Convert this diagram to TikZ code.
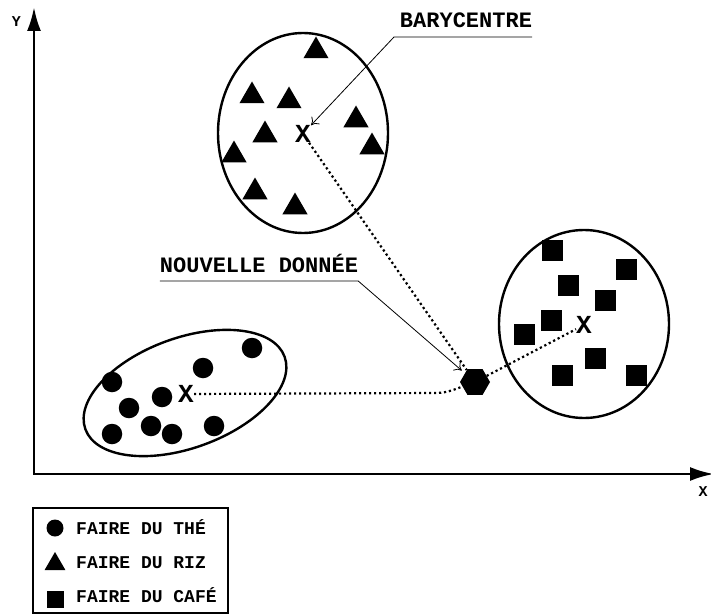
\documentclass[tikz,border=0pt]{standalone}
\usepackage{fontspec}
\setmainfont{Liberation Mono}
\usetikzlibrary{arrows.meta,shapes.geometric}
\tikzset{
  tri/.style={regular polygon, regular polygon sides=3, fill=black, inner sep=0pt, minimum size=29pt},
  sqr/.style={rectangle, fill=black, inner sep=0pt, minimum size=21pt},
  dot/.style={circle, fill=black, inner sep=0pt, minimum size=20.5pt},
  bary/.style={inner sep=0pt, font=\fontsize{26}{26}\selectfont\bfseries},
  cluster/.style={line width=2.4pt},
  link/.style={line width=2.2pt, dash pattern=on 2.2pt off 2.8pt},
  leader/.style={line width=0.8pt, -{To[length=7pt,width=11pt]}},
  tag/.style={inner sep=0pt, anchor=base, font=\fontsize{22}{22}\selectfont\bfseries},
  legtext/.style={inner sep=0pt, anchor=base west, font=\fontsize{18}{18}\selectfont\bfseries},
  axlabel/.style={inner sep=0pt, font=\fontsize{15}{15}\selectfont\bfseries}
}
\begin{document}
\begin{tikzpicture}[x=1pt, y=-1pt]
\useasboundingbox (0,0) rectangle (711,615);
% axes
\draw [line width=2.8pt, {Latex[length=24pt,width=14pt]}-{Latex[length=24pt,width=14pt]}] (34,7) -- (34,474) -- (714,474);
\node [axlabel] (ylab) at (16.5,21.5) {Y};
\node [axlabel] (xlab) at (703,492) {X};
% clusters
\draw [cluster] (303,133) ellipse [x radius=85, y radius=100];
\draw [cluster] (584,324) ellipse [x radius=85, y radius=94];
\draw [cluster, rotate around={20:(185,393)}] (185,393) ellipse [x radius=106, y radius=55];
\foreach \p [count=\i] in {(316,51),(252,96),(289,101),(265,135),(234,155),(255,192),(295,207),(356,120),(372,147)}
  \node [tri] (tri\i) at \p {};
\foreach \p [count=\i] in {(552,250),(626,269),(568,285),(605,300),(551,320),(524,334),(595,358),(562,375),(636,375)}
  \node [sqr] (sqr\i) at \p {};
\foreach \p [count=\i] in {(112,382),(252,348),(203,368),(162,397),(129,408),(112,434),(151,426),(172,434),(214,426)}
  \node [dot] (dot\i) at \p {};
\node [bary] (Xtri) at (303,134) {X};
\node [bary] (Xsq) at (584,325) {X};
\node [bary] (Xdot) at (186,394) {X};
% new point
\node [regular polygon, regular polygon sides=6, fill=black, inner sep=0pt, minimum size=30pt] (hexa) at (475,382) {};
\coordinate (bend) at (435,393);
\draw [link] (Xtri) -- (hexa);
\draw [link] (hexa) -- (Xsq);
\draw [link] (Xdot) -- (bend) to [out=0, in=200] (hexa);
% labels
\node [tag] (barytag) at (466,28) {BARYCENTRE};
\coordinate (barykink) at (394,37);
\draw [leader] ([yshift=-9pt]barytag.base east) -- (barykink) -- (Xtri.north east);
\node [tag] (newtag) at (259,272) {NOUVELLE DONNÉE};
\draw [leader, shorten >=4pt] ([yshift=-9pt]newtag.base west) -- ([yshift=-9pt]newtag.base east) -- (hexa);
% legend
\draw [line width=1.8pt] (33,508) rectangle (228,613);
\node [dot, minimum size=17pt] (legdot) at (55,528) {};
\node [tri, minimum size=24pt] (legtri) at (55,564) {};
\node [sqr, minimum size=17pt] (legsqr) at (55,599) {};
\node [legtext] (legthe) at (76,534) {FAIRE DU THÉ};
\node [legtext] (legriz) at (76,568) {FAIRE DU RIZ};
\node [legtext] (legcafe) at (76,602) {FAIRE DU CAFÉ};
\end{tikzpicture}
\end{document}
